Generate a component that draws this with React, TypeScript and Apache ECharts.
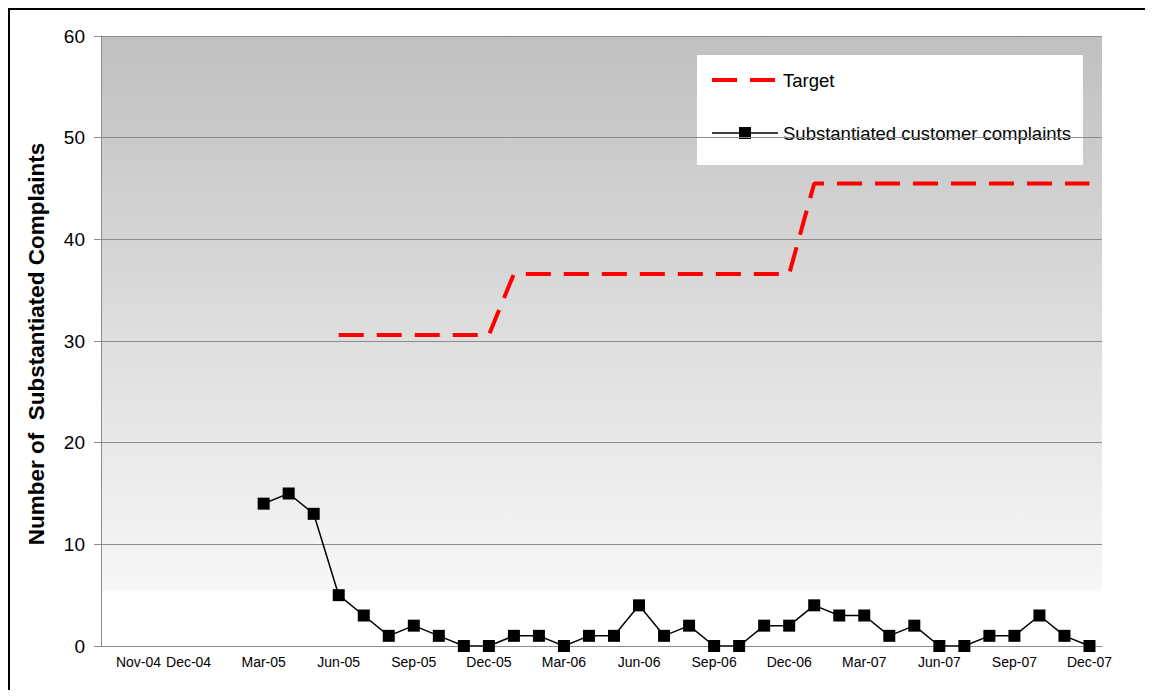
import React, { useEffect, useRef } from "react";
import * as echarts from "echarts";

const categories = [
  "", "Nov-04", "", "Dec-04", "Jan-05", "Feb-05",
  "Mar-05", "Apr-05", "May-05", "Jun-05", "Jul-05", "Aug-05", "Sep-05", "Oct-05", "Nov-05", "Dec-05",
  "Jan-06", "Feb-06", "Mar-06", "Apr-06", "May-06", "Jun-06", "Jul-06", "Aug-06", "Sep-06", "Oct-06", "Nov-06", "Dec-06",
  "Jan-07", "Feb-07", "Mar-07", "Apr-07", "May-07", "Jun-07", "Jul-07", "Aug-07", "Sep-07", "Oct-07", "Nov-07", "Dec-07",
];

const complaints = [
  null, null, null, null, null, null,
  14, 15, 13, 5, 3, 1, 2, 1, 0, 0,
  1, 1, 0, 1, 1, 4, 1, 2, 0, 0, 2, 2,
  4, 3, 3, 1, 2, 0, 0, 1, 1, 3, 1, 0,
];

const target = [
  null, null, null, null, null, null,
  null, null, null, 30.6, 30.6, 30.6, 30.6, 30.6, 30.6, 30.6,
  36.6, 36.6, 36.6, 36.6, 36.6, 36.6, 36.6, 36.6, 36.6, 36.6, 36.6, 36.6,
  45.5, 45.5, 45.5, 45.5, 45.5, 45.5, 45.5, 45.5, 45.5, 45.5, 45.5, 45.5,
];

const seriesNames = ["Target", "Substantiated customer complaints"];
const yTitle = "Number of  Substantiated Complaints";

export default function App() {
  const ref = useRef<HTMLDivElement>(null);
  useEffect(() => {
    if (!ref.current) return;
    const chart = echarts.init(ref.current, null, { renderer: "svg" });
    const font = "Arial, 'Liberation Sans', sans-serif";
    const lgX = 689;
    const lgY = 47;
    chart.setOption({
      animation: false,
      textStyle: { fontFamily: font },
      grid: {
        left: 93,
        right: 43,
        top: 28,
        bottom: 44,
        show: true,
        borderWidth: 0,
        backgroundColor: new echarts.graphic.LinearGradient(0, 0, 0, 1, [
          { offset: 0, color: "#c0c0c0" },
          { offset: 0.91, color: "#f7f7f7" },
          { offset: 0.911, color: "#ffffff" },
          { offset: 1, color: "#ffffff" },
        ]),
      },
      xAxis: {
        type: "category",
        data: categories,
        boundaryGap: true,
        axisLine: { lineStyle: { color: "#8c8c8c", width: 1 } },
        axisTick: { interval: 2, length: 5, lineStyle: { color: "#8c8c8c" } },
        axisLabel: {
          interval: (i: number) => i === 1 || i % 3 === 0,
          fontSize: 14,
          color: "#000",
          margin: 9,
          fontFamily: font,
        },
        splitLine: { show: false },
      },
      yAxis: {
        type: "value",
        min: 0,
        max: 60,
        interval: 10,
        axisLine: { show: true, lineStyle: { color: "#8c8c8c", width: 1 } },
        axisTick: { show: true, length: 7, lineStyle: { color: "#8c8c8c" } },
        axisLabel: { fontSize: 19, color: "#000", margin: 16, fontFamily: font },
        splitLine: { lineStyle: { color: "#8c8c8c", width: 1 } },
      },
      graphic: [
        {
          type: "rect",
          shape: { x: 1, y: 1, width: 3000, height: 3000 },
          style: { fill: "none", stroke: "#000", lineWidth: 2 },
          silent: true,
        },
        {
          type: "text",
          x: 28,
          y: 336,
          rotation: Math.PI / 2,
          style: {
            text: yTitle,
            fontSize: 22.5,
            fontWeight: "bold",
            fontFamily: font,
            fill: "#000",
            align: "center",
            verticalAlign: "middle",
          },
        },
        {
          type: "group",
          x: lgX,
          y: lgY,
          z: 100,
          children: [
            {
              type: "rect",
              shape: { x: 0, y: 0, width: 386, height: 110 },
              style: { fill: "#ffffff", stroke: "none" },
            },
            {
              type: "line",
              shape: { x1: 15, y1: 25, x2: 78, y2: 25 },
              style: { stroke: "#ff0000", lineWidth: 4, lineDash: [25, 13] },
            },
            {
              type: "text",
              x: 86,
              y: 25,
              style: {
                text: seriesNames[0],
                fontSize: 18.5,
                fontFamily: font,
                fill: "#000",
                align: "left",
                verticalAlign: "middle",
              },
            },
            {
              type: "line",
              shape: { x1: 15, y1: 78, x2: 81, y2: 78 },
              style: { stroke: "#000", lineWidth: 1.5 },
            },
            {
              type: "rect",
              shape: { x: 42, y: 72, width: 12, height: 12 },
              style: { fill: "#000" },
            },
            {
              type: "text",
              x: 86,
              y: 78,
              style: {
                text: seriesNames[1],
                fontSize: 18.5,
                fontFamily: font,
                fill: "#000",
                align: "left",
                verticalAlign: "middle",
              },
            },
          ],
        },
      ],
      series: [
        {
          name: seriesNames[0],
          type: "line",
          data: target,
          symbol: "none",
          connectNulls: false,
          lineStyle: { color: "#ff0000", width: 4, type: [25, 13] },
          itemStyle: { color: "#ff0000" },
          z: 3,
        },
        {
          name: seriesNames[1],
          type: "line",
          data: complaints,
          symbol: "rect",
          symbolSize: 12,
          lineStyle: { color: "#000", width: 1.5 },
          itemStyle: { color: "#000" },
          z: 4,
        },
      ],
    });
    return () => chart.dispose();
  }, []);
  return <div ref={ref} style={{ width: 1137, height: 682 }} />;
}
